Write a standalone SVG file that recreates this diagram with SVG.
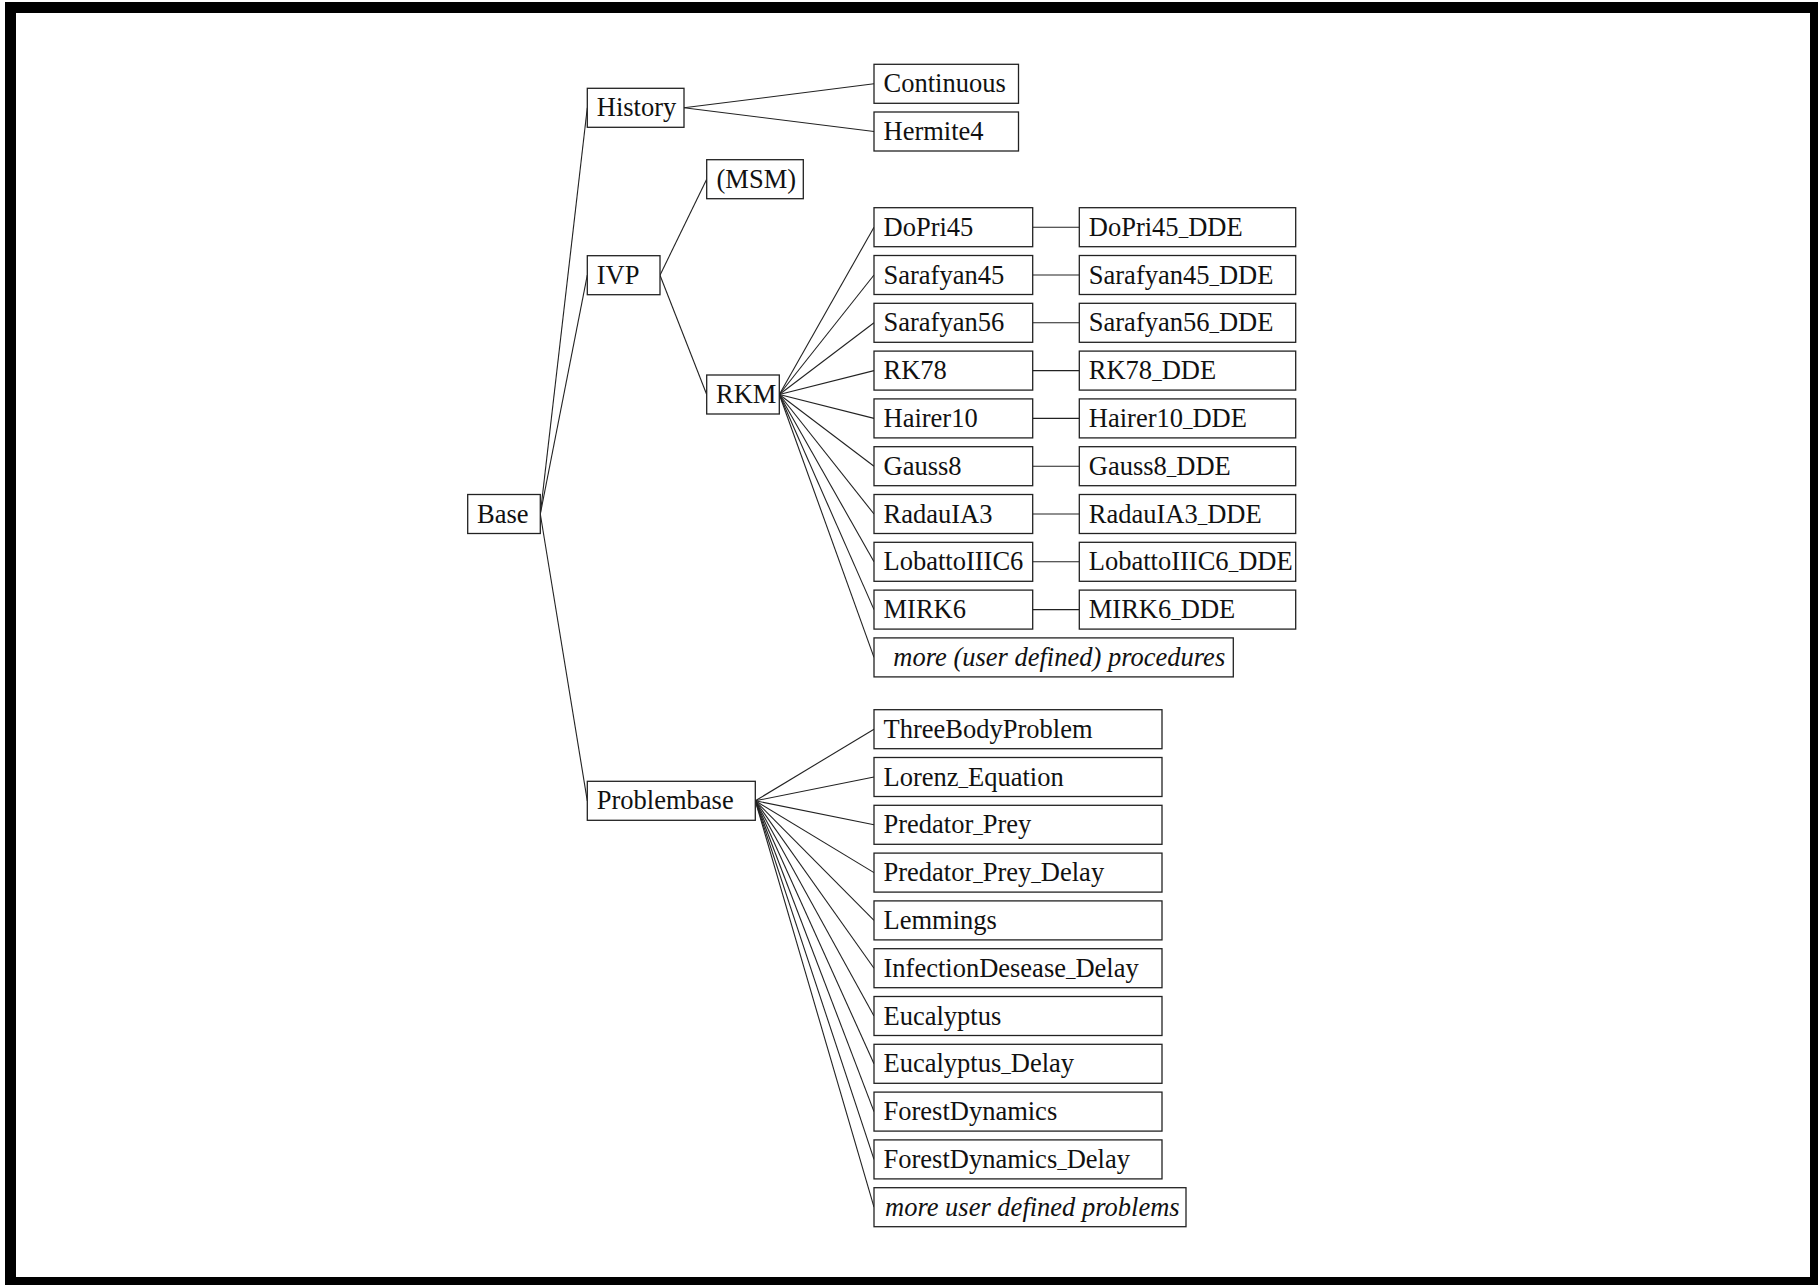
<svg xmlns="http://www.w3.org/2000/svg" width="1818" height="1285" viewBox="0 0 1818 1285">
<style>
.box{fill:#fff;stroke:#222;stroke-width:1.3}
.t{font-family:"Liberation Serif","Times New Roman",serif;font-size:26.5px;fill:#111}
.ti{font-style:italic}
.u{font-size:19px}
#edges line{stroke:#222;stroke-width:1.1}
</style>
<rect x="0" y="0" width="1818" height="1285" fill="#fff"/>
<rect x="5" y="2" width="1813" height="1283" fill="#000"/>
<rect x="16" y="13" width="1794" height="1264" fill="#fff"/>
<g id="edges">
<line x1="540.3" y1="514" x2="587.3" y2="107.8"/>
<line x1="540.3" y1="514" x2="587.3" y2="275.2"/>
<line x1="540.3" y1="514" x2="587.3" y2="800.8"/>
<line x1="684" y1="107.8" x2="874" y2="83.8"/>
<line x1="684" y1="107.8" x2="874" y2="131.5"/>
<line x1="660" y1="275.2" x2="706.7" y2="179.2"/>
<line x1="660" y1="275.2" x2="706.7" y2="394.5"/>
<line x1="779.3" y1="394.5" x2="874" y2="227.2"/>
<line x1="779.3" y1="394.5" x2="874" y2="275"/>
<line x1="779.3" y1="394.5" x2="874" y2="322.8"/>
<line x1="779.3" y1="394.5" x2="874" y2="370.6"/>
<line x1="779.3" y1="394.5" x2="874" y2="418.4"/>
<line x1="779.3" y1="394.5" x2="874" y2="466.2"/>
<line x1="779.3" y1="394.5" x2="874" y2="514"/>
<line x1="779.3" y1="394.5" x2="874" y2="561.8"/>
<line x1="779.3" y1="394.5" x2="874" y2="609.6"/>
<line x1="779.3" y1="394.5" x2="874" y2="657.4"/>
<line x1="1032.7" y1="227.2" x2="1079.3" y2="227.2"/>
<line x1="1032.7" y1="275" x2="1079.3" y2="275"/>
<line x1="1032.7" y1="322.8" x2="1079.3" y2="322.8"/>
<line x1="1032.7" y1="370.6" x2="1079.3" y2="370.6"/>
<line x1="1032.7" y1="418.4" x2="1079.3" y2="418.4"/>
<line x1="1032.7" y1="466.2" x2="1079.3" y2="466.2"/>
<line x1="1032.7" y1="514" x2="1079.3" y2="514"/>
<line x1="1032.7" y1="561.8" x2="1079.3" y2="561.8"/>
<line x1="1032.7" y1="609.6" x2="1079.3" y2="609.6"/>
<line x1="755.3" y1="800.8" x2="874" y2="729.2"/>
<line x1="755.3" y1="800.8" x2="874" y2="777"/>
<line x1="755.3" y1="800.8" x2="874" y2="824.8"/>
<line x1="755.3" y1="800.8" x2="874" y2="872.6"/>
<line x1="755.3" y1="800.8" x2="874" y2="920.4"/>
<line x1="755.3" y1="800.8" x2="874" y2="968.2"/>
<line x1="755.3" y1="800.8" x2="874" y2="1016"/>
<line x1="755.3" y1="800.8" x2="874" y2="1063.8"/>
<line x1="755.3" y1="800.8" x2="874" y2="1111.6"/>
<line x1="755.3" y1="800.8" x2="874" y2="1159.4"/>
<line x1="755.3" y1="800.8" x2="874" y2="1207.2"/>
</g>
<g id="base"><rect class="box" x="467.7" y="494.5" width="72.6" height="39"/><text class="t" x="477" y="522.5">Base</text></g>
<g id="history"><rect class="box" x="587.3" y="88.3" width="96.7" height="39"/><text class="t" x="596.8" y="116.3">History</text></g>
<g id="continuous"><rect class="box" x="874" y="64.3" width="144.5" height="39"/><text class="t" x="883.5" y="92.3">Continuous</text></g>
<g id="hermite4"><rect class="box" x="874" y="112" width="144.5" height="39"/><text class="t" x="883.5" y="140">Hermite4</text></g>
<g id="ivp"><rect class="box" x="587.3" y="255.7" width="72.7" height="39"/><text class="t" x="596.8" y="283.7">IVP</text></g>
<g id="msm"><rect class="box" x="706.7" y="159.7" width="96.6" height="39"/><text class="t" x="716.5" y="187.7">(MSM)</text></g>
<g id="rkm"><rect class="box" x="706.7" y="375" width="72.6" height="39"/><text class="t" x="716" y="403">RKM</text></g>
<g id="problembase"><rect class="box" x="587.3" y="781.3" width="168" height="39"/><text class="t" x="596.8" y="809.3">Problembase</text></g>

<g id="dopri45"><rect class="box" x="874" y="207.7" width="158.7" height="39"/><text class="t" x="883.5" y="235.7">DoPri45</text></g>
<g id="sarafyan45"><rect class="box" x="874" y="255.5" width="158.7" height="39"/><text class="t" x="883.5" y="283.5">Sarafyan45</text></g>
<g id="sarafyan56"><rect class="box" x="874" y="303.3" width="158.7" height="39"/><text class="t" x="883.5" y="331.3">Sarafyan56</text></g>
<g id="rk78"><rect class="box" x="874" y="351.1" width="158.7" height="39"/><text class="t" x="883.5" y="379.1">RK78</text></g>
<g id="hairer10"><rect class="box" x="874" y="398.9" width="158.7" height="39"/><text class="t" x="883.5" y="426.9">Hairer10</text></g>
<g id="gauss8"><rect class="box" x="874" y="446.7" width="158.7" height="39"/><text class="t" x="883.5" y="474.7">Gauss8</text></g>
<g id="radauia3"><rect class="box" x="874" y="494.5" width="158.7" height="39"/><text class="t" x="883.5" y="522.5">RadauIA3</text></g>
<g id="lobattoiiic6"><rect class="box" x="874" y="542.3" width="158.7" height="39"/><text class="t" x="883.5" y="570.3">LobattoIIIC6</text></g>
<g id="mirk6"><rect class="box" x="874" y="590.1" width="158.7" height="39"/><text class="t" x="883.5" y="618.1">MIRK6</text></g>
<g id="more-procedures"><rect class="box" x="874" y="637.9" width="359.3" height="39"/><text class="t ti" x="893.3" y="665.9">more (user defined) procedures</text></g>

<g id="dopri45-dde"><rect class="box" x="1079.3" y="207.7" width="216.4" height="39"/><text class="t" x="1088.8" y="235.7">DoPri45<tspan class="u">_</tspan>DDE</text></g>
<g id="sarafyan45-dde"><rect class="box" x="1079.3" y="255.5" width="216.4" height="39"/><text class="t" x="1088.8" y="283.5">Sarafyan45<tspan class="u">_</tspan>DDE</text></g>
<g id="sarafyan56-dde"><rect class="box" x="1079.3" y="303.3" width="216.4" height="39"/><text class="t" x="1088.8" y="331.3">Sarafyan56<tspan class="u">_</tspan>DDE</text></g>
<g id="rk78-dde"><rect class="box" x="1079.3" y="351.1" width="216.4" height="39"/><text class="t" x="1088.8" y="379.1">RK78<tspan class="u">_</tspan>DDE</text></g>
<g id="hairer10-dde"><rect class="box" x="1079.3" y="398.9" width="216.4" height="39"/><text class="t" x="1088.8" y="426.9">Hairer10<tspan class="u">_</tspan>DDE</text></g>
<g id="gauss8-dde"><rect class="box" x="1079.3" y="446.7" width="216.4" height="39"/><text class="t" x="1088.8" y="474.7">Gauss8<tspan class="u">_</tspan>DDE</text></g>
<g id="radauia3-dde"><rect class="box" x="1079.3" y="494.5" width="216.4" height="39"/><text class="t" x="1088.8" y="522.5">RadauIA3<tspan class="u">_</tspan>DDE</text></g>
<g id="lobattoiiic6-dde"><rect class="box" x="1079.3" y="542.3" width="216.4" height="39"/><text class="t" x="1088.8" y="570.3">LobattoIIIC6<tspan class="u">_</tspan>DDE</text></g>
<g id="mirk6-dde"><rect class="box" x="1079.3" y="590.1" width="216.4" height="39"/><text class="t" x="1088.8" y="618.1">MIRK6<tspan class="u">_</tspan>DDE</text></g>

<g id="threebody"><rect class="box" x="874" y="709.7" width="288" height="39"/><text class="t" x="883.5" y="737.7">ThreeBodyProblem</text></g>
<g id="lorenz"><rect class="box" x="874" y="757.5" width="288" height="39"/><text class="t" x="883.5" y="785.5">Lorenz<tspan class="u">_</tspan>Equation</text></g>
<g id="predator-prey"><rect class="box" x="874" y="805.3" width="288" height="39"/><text class="t" x="883.5" y="833.3">Predator<tspan class="u">_</tspan>Prey</text></g>
<g id="predator-prey-delay"><rect class="box" x="874" y="853.1" width="288" height="39"/><text class="t" x="883.5" y="881.1">Predator<tspan class="u">_</tspan>Prey<tspan class="u">_</tspan>Delay</text></g>
<g id="lemmings"><rect class="box" x="874" y="900.9" width="288" height="39"/><text class="t" x="883.5" y="928.9">Lemmings</text></g>
<g id="infection"><rect class="box" x="874" y="948.7" width="288" height="39"/><text class="t" x="883.5" y="976.7">InfectionDesease<tspan class="u">_</tspan>Delay</text></g>
<g id="eucalyptus"><rect class="box" x="874" y="996.5" width="288" height="39"/><text class="t" x="883.5" y="1024.5">Eucalyptus</text></g>
<g id="eucalyptus-delay"><rect class="box" x="874" y="1044.3" width="288" height="39"/><text class="t" x="883.5" y="1072.3">Eucalyptus<tspan class="u">_</tspan>Delay</text></g>
<g id="forest"><rect class="box" x="874" y="1092.1" width="288" height="39"/><text class="t" x="883.5" y="1120.1">ForestDynamics</text></g>
<g id="forest-delay"><rect class="box" x="874" y="1139.9" width="288" height="39"/><text class="t" x="883.5" y="1167.9">ForestDynamics<tspan class="u">_</tspan>Delay</text></g>
<g id="more-problems"><rect class="box" x="874" y="1187.7" width="312" height="39"/><text class="t ti" x="885" y="1215.7">more user defined problems</text></g>
</svg>
